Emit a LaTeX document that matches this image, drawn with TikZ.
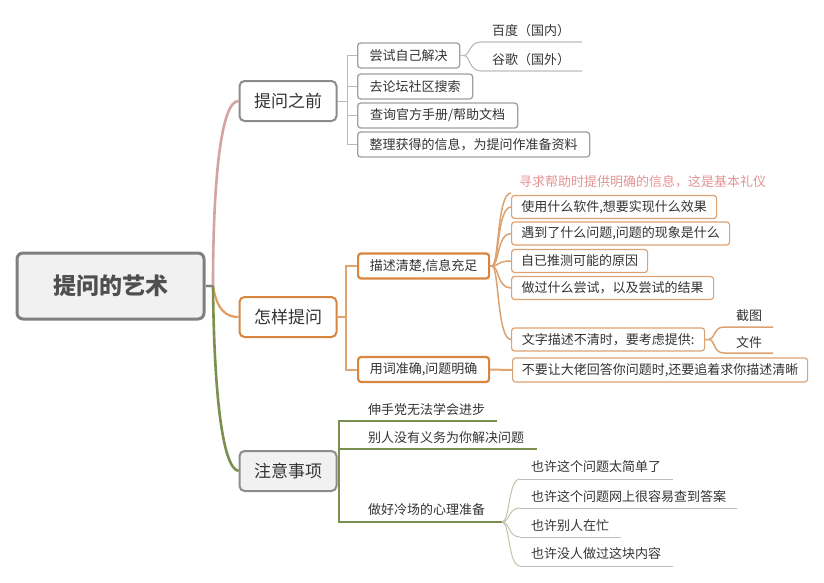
\documentclass[tikz,border=0pt]{standalone}
\usepackage{fontspec}
\setmainfont{Noto Sans CJK SC}
\definecolor{cText}{HTML}{333333}
\definecolor{cRootText}{HTML}{4F4F4F}
\definecolor{cRootLine}{HTML}{7F7F7F}
\definecolor{cFill}{HTML}{F1F1F1}
\definecolor{cGray}{HTML}{8C8C8C}
\definecolor{cBoxGray}{HTML}{A0A0A0}
\definecolor{cGLine}{HTML}{C4B6B6}
\definecolor{cLineGray}{HTML}{BDBDBD}
\definecolor{cOrange}{HTML}{D8853F}
\definecolor{cOrangeL}{HTML}{DDA272}
\definecolor{cPink}{HTML}{D4A3A3}
\definecolor{cPinkText}{HTML}{E39393}
\definecolor{cGreen}{HTML}{7B8F4E}
\definecolor{cFan}{HTML}{C2C2A8}
\begin{document}
\begin{tikzpicture}[x=1pt,y=-1pt,
  txt/.style={text=cText,inner sep=0pt,anchor=west,font=\fontsize{13}{15}\selectfont},
  rootbox/.style={draw=cRootLine,fill=cFill,line width=3pt,rounded corners=6pt,minimum width=187pt,minimum height=66pt,text=cRootText,font=\fontsize{23}{26}\selectfont\bfseries},
  lonebox/.style={line width=2pt,rounded corners=5pt,minimum width=97pt,minimum height=40pt,text=cText,font=\fontsize{17}{20}\selectfont},
  gbox/.style={draw=cBoxGray,fill=white,line width=1.3pt,rounded corners=3pt,minimum height=25pt,inner xsep=5pt,anchor=west,text=cText,font=\fontsize{13}{15}\selectfont},
  obox/.style={draw=cOrangeL,fill=white,line width=1.2pt,rounded corners=3pt,minimum height=23pt,inner xsep=5pt,anchor=west,text=cText,font=\fontsize{13}{15}\selectfont},
  oboxtwo/.style={draw=cOrange,fill=white,line width=2.2pt,rounded corners=3pt,minimum height=25pt,minimum width=131pt,inner xsep=5pt,anchor=west,text=cText,font=\fontsize{13}{15}\selectfont},
  grayline/.style={draw=cGLine,line width=1pt},
  thinline/.style={draw=cLineGray,line width=1.2pt},
  orangeline/.style={draw=cOrange!75,line width=2pt},
  orangethin/.style={draw=cOrangeL,line width=1.5pt},
  greenline/.style={draw=cGreen,line width=1.8pt},
  fanline/.style={draw=cFan,line width=1pt}
]
\useasboundingbox (0,0) rectangle (824,582);

% root and main branches
\node[rootbox] (root) at (110.5,286) {提问的艺术};
\node[lonebox,draw=cGray,fill=white] (a) at (288,101) {提问之前};
\node[lonebox,draw=cOrange,fill=white] (b) at (288,317) {怎样提问};
\node[lonebox,draw=cGray,fill=cFill] (c) at (288,471) {注意事项};

\coordinate (rj) at (213,286);
\draw[draw=cPink,line width=2.6pt] (root.east) -- (rj) .. controls (213,180) and (221,101) .. (a.west);
\draw[draw=cOrange!80,line width=2.2pt] (rj) .. controls (217,310) and (226,317) .. (b.west);
\draw[draw=cGreen,line width=2.6pt] (rj) .. controls (214,390) and (222,468) .. (c.west);
\draw[draw=cRootLine,line width=1.5pt] (root.east) -- (rj);

% branch a
\node[gbox,minimum width=102pt] (a1) at (357,55.5) {尝试自己解决};
\node[gbox,minimum width=115pt] (a2) at (357,86.5) {去论坛社区搜索};
\node[gbox,minimum width=160pt] (a3) at (357,115.5) {查询官方手册/帮助文档};
\node[gbox,minimum width=232pt] (a4) at (357,144.5) {整理获得的信息，为提问作准备资料};
\coordinate (aj) at (347,101);
\foreach \n in {a1,a2,a3,a4} \draw[grayline] (a.east) -- (aj) |- (\n.west);

\node[txt] (a1x) at (492,31) {百度（国内）};
\node[txt] (a1y) at (492,60) {谷歌（国外）};
\coordinate (a1j) at (464,55.5);
\coordinate (a1xs) at (481,42); \coordinate (a1xe) at (582,42);
\coordinate (a1ys) at (481,71); \coordinate (a1ye) at (582,71);
\draw[thinline] (a1.east) -- (a1j) .. controls (470,55.5) and (469,42) .. (a1xs) -- (a1xe);
\draw[thinline] (a1j) .. controls (470,55.5) and (469,71) .. (a1ys) -- (a1ye);

% branch b
\node[oboxtwo] (b1) at (357,266) {描述清楚,信息充足};
\node[oboxtwo] (b2) at (357,369.5) {用词准确,问题明确};
\coordinate (bj) at (346,317);
\draw[orangeline] (b.east) -- (bj) |- (b1.west);
\draw[orangeline] (bj) |- (b2.west);

\node[txt,text=cPinkText] (b1t) at (519,182) {寻求帮助时提供明确的信息，这是基本礼仪};
\node[obox,minimum width=205pt] (b11) at (511,207) {使用什么软件,想要实现什么效果};
\node[obox,minimum width=218pt] (b12) at (511,233.5) {遇到了什么问题,问题的现象是什么};
\node[obox,minimum width=136pt] (b13) at (511,261) {自已推测可能的原因};
\node[obox,minimum width=202pt] (b14) at (511,288) {做过什么尝试，以及尝试的结果};
\node[obox,minimum width=193pt] (b15) at (511,339.5) {文字描述不清时，要考虑提供:};
\coordinate (b1j) at (492,266);
\coordinate (b1te) at (511,193);
\draw[orangethin] (b1.east) -- (b1j);
\draw[orangethin] (b1j) .. controls (499,266) and (497,193) .. (b1te);
\draw[orangethin] (b1j) .. controls (499,266) and (497,207) .. (b11.west);
\draw[orangethin] (b1j) .. controls (499,266) and (497,233.5) .. (b12.west);
\draw[orangethin] (b1j) .. controls (499,266) and (497,261) .. (b13.west);
\draw[orangethin] (b1j) .. controls (499,266) and (497,288) .. (b14.west);
\draw[orangethin] (b1j) .. controls (499,266) and (497,339.5) .. (b15.west);

\node[txt] (b15x) at (736,316) {截图};
\node[txt] (b15y) at (736,343) {文件};
\coordinate (b15j) at (709,339.5);
\coordinate (b15xs) at (724,327); \coordinate (b15xe) at (773,327);
\coordinate (b15ys) at (724,353); \coordinate (b15ye) at (773,353);
\draw[orangethin] (b15.east) -- (b15j) .. controls (715,339.5) and (713,327) .. (b15xs) -- (b15xe);
\draw[orangethin] (b15j) .. controls (715,339.5) and (713,353) .. (b15ys) -- (b15ye);

\node[obox,minimum width=295pt,minimum height=24pt] (b21) at (512,370) {不要让大佬回答你问题时,还要追着求你描述清晰};
\draw[orangeline] (b2.east) -- (b21.west);

% branch c
\node[txt] (c1) at (368,409) {伸手党无法学会进步};
\node[txt] (c2) at (368,438) {别人没有义务为你解决问题};
\node[txt] (c3) at (368,510) {做好冷场的心理准备};
\coordinate (cj) at (339,471);
\coordinate (c1e) at (497,421);
\coordinate (c2e) at (537,449);
\coordinate (c3e) at (502,522);
\draw[greenline] (c.east) -- (cj) |- (c1e);
\draw[greenline] (cj) |- (c2e);
\draw[greenline] (cj) |- (c3e);

\node[txt] (c31) at (531,467) {也许这个问题太简单了};
\node[txt] (c32) at (531,497) {也许这个问题网上很容易查到答案};
\node[txt] (c33) at (531,526) {也许别人在忙};
\node[txt] (c34) at (531,554) {也许没人做过这块内容};
\coordinate (c31s) at (520,479); \coordinate (c31e) at (673,479);
\coordinate (c32s) at (520,508); \coordinate (c32e) at (737,508);
\coordinate (c33s) at (520,537); \coordinate (c33e) at (621,537);
\coordinate (c34s) at (520,566); \coordinate (c34e) at (673,566);
\draw[fanline] (c3e) .. controls (510,522) and (508,479) .. (c31s);
\draw[fanline] (c3e) .. controls (510,522) and (508,508) .. (c32s);
\draw[fanline] (c3e) .. controls (510,522) and (508,537) .. (c33s);
\draw[fanline] (c3e) .. controls (510,522) and (508,566) .. (c34s);
\draw[thinline,line width=1pt] (c31s) -- (c31e);
\draw[thinline,line width=1pt] (c32s) -- (c32e);
\draw[thinline,line width=1pt] (c33s) -- (c33e);
\draw[thinline,line width=1pt] (c34s) -- (c34e);
\end{tikzpicture}
\end{document}
